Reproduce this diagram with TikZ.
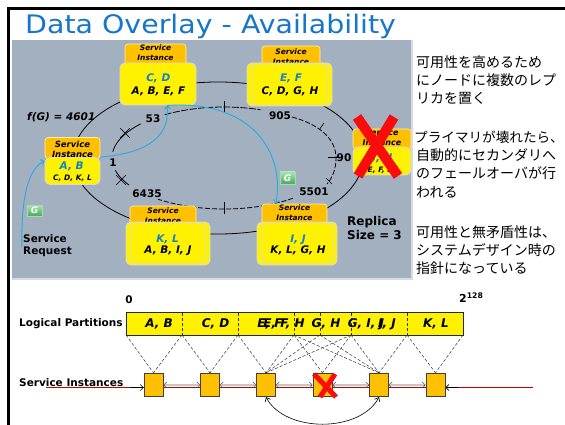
\documentclass[tikz,border=0pt]{standalone}
\usepackage{graphicx}
\usepackage{fontspec}
\setmainfont{DejaVu Sans}
\newfontfamily\jpfont{Noto Sans CJK JP}
\usetikzlibrary{arrows.meta,calc}

\definecolor{panel}{RGB}{163,176,192}
\definecolor{tabor}{RGB}{255,192,0}
\definecolor{ttlblue}{RGB}{22,118,200}
\definecolor{lblblue}{RGB}{18,130,205}
\definecolor{wireblue}{RGB}{40,170,226}
\definecolor{darkred}{RGB}{192,0,0}
\definecolor{gdark}{RGB}{70,170,90}
\definecolor{glight}{RGB}{165,232,175}
\definecolor{xred}{RGB}{250,12,12}

\newcommand\fsz[2]{\fontsize{#1}{#2}\selectfont}

\tikzset{
  tabbox/.style={fill=tabor, draw=white!70!tabor, line width=0.6pt, rounded corners=3pt, inner sep=0pt},
  ybox/.style={fill=yellow, draw=white!85!black, line width=0.9pt, rounded corners=5pt, inner sep=0pt},
  tabtxt/.style={anchor=base, inner sep=0pt, font=\fsz{7.5}{9}\bfseries\itshape},
  bigtxt/.style={anchor=base, inner sep=0pt, font=\fsz{10.5}{12}\bfseries\itshape},
  bluetxt/.style={bigtxt, text=lblblue},
  numlbl/.style={anchor=base, inner sep=0pt, font=\fsz{10.5}{12}\bfseries},
  tickln/.style={line width=0.6pt},
  ringarc/.style={line width=0.8pt},
  wire/.style={wireblue, line width=0.9pt, -{Straight Barb[length=3pt,width=6pt]}},
  gicon/.style={minimum width=15pt, minimum height=11pt, inner sep=0pt, top color=glight, bottom color=gdark, draw=white!55!gdark, line width=0.4pt, text=white, font=\fsz{9}{9}\bfseries\itshape},
  redx/.style={xred, line width=10pt},
  segtxt/.style={anchor=base, inner sep=0pt, font=\fsz{12}{12}\bfseries\itshape},
  inst/.style={fill=tabor, draw=black!75, line width=0.8pt, minimum width=19pt, minimum height=23.5pt, inner sep=0pt},
  mapln/.style={densely dashed, line width=0.5pt, black!80},
  jp/.style={anchor=base west, inner sep=0pt, font=\jpfont\fsz{14}{18}},
  sidelbl/.style={anchor=base west, inner sep=0pt, font=\fsz{10.5}{12}\bfseries},
  link/.style={black!70, line width=0.5pt, {Straight Barb[length=3pt,width=6pt]}-{Straight Barb[length=3pt,width=6pt]}},
  linkbody/.style={double=black!22, double distance=1.3pt, line width=0.5pt, black!75, shorten <=1.5pt, shorten >=1.5pt},
}

\begin{document}
\begin{tikzpicture}[x=1pt,y=-1pt]
\useasboundingbox (0,0) rectangle (565,425);
\fill[white] (0,0) rectangle (565,425);

% slide frame and title
\draw[line width=3pt] (8.7,425) -- (8.7,8.3) -- (565,8.3);
\node[anchor=base west, inner sep=0pt, text=ttlblue, font=\fsz{25.5}{26}] (title) at (25,33.5)
  {\scalebox{1.115}[1]{Data Overlay - Availability}};

% ---------------- ring panel ----------------
\fill[panel] (12,40) rectangle (411,278);
\draw[white!55!panel, line width=1.5pt] (12,279) -- (411.8,279) -- (411.8,40);

% outer ring
\draw[ringarc] (218,158) ellipse [x radius=145, y radius=76];

% inner ring, drawn as arcs between the token positions
\draw[ringarc] plot[domain=187:222, samples=20] ({224+112*cos(\x)},{158+51*sin(\x)});
\draw[ringarc, dash pattern=on 7pt off 1.5pt] plot[domain=238:289, samples=30] ({224+112*cos(\x)},{158+51*sin(\x)});
\draw[ringarc, dash pattern=on 5pt off 2pt] (292,117) .. controls (318,124) and (336,138) .. (336,158)
   .. controls (336,170) and (332,178) .. (327,184);
\draw[ringarc] plot[domain=148:166, samples=10] ({224+112*cos(\x)},{158+51*sin(\x)});
\draw[ringarc, dash pattern=on 5pt off 2pt] plot[domain=52:126, samples=30] ({224+112*cos(\x)},{158+51*sin(\x)});

% token ticks
\draw[tickln] (120,128) -- (130,138) (120,138) -- (130,128);
\draw[tickln] (116,175) -- (126,185) (116,185) -- (126,175);
\draw[tickln] (224,101) -- (224,113);
\draw[tickln] (224,202) -- (224,214);
\draw[tickln] (319,130) -- (324,123);
\draw[tickln] (328,157.5) -- (341,157.5);
\draw[tickln] (326,178) -- (332,184);

% token labels
\node[numlbl, font=\fsz{10.5}{12}\bfseries\itshape, anchor=base west] (fg) at (27,120.5) {f(G) = 4601};
\node[numlbl] (n53) at (153,123) {53};
\node[numlbl] (n905) at (280,120) {905};
\node[numlbl] (n1) at (113,167) {1};
\node[numlbl] (n90) at (344,162) {90};
\node[numlbl] (n6435) at (147,197) {6435};
\node[numlbl] (n5501) at (314,195) {5501};

\node[anchor=base west, inner sep=0pt, font=\fsz{12}{14}\bfseries] (rep1) at (347,225) {Replica};
\node[anchor=base west, inner sep=0pt, font=\fsz{12}{14}\bfseries] (rep2) at (347,239.5) {Size = 3};

\node[sidelbl] (sr1) at (23,242.5) {Service};
\node[sidelbl] (sr2) at (23,254) {Request};

% service instance C,D
\node[tabbox, minimum width=61pt, minimum height=22pt] (cdT) at (155.5,55) {};
\node[tabtxt] (cdT1) at (155.5,50.7) {Service};
\node[tabtxt] (cdT2) at (155.5,60.7) {Instance};
\node[ybox, minimum width=76pt, minimum height=42pt] (cd) at (158,84) {};
\node[bluetxt] (cd1) at (158.3,81.8) {C, D};
\node[bigtxt] (cd2) at (158.5,94.8) {A, B, E, F};

% service instance E,F
\node[tabbox, minimum width=58pt, minimum height=20pt] (efT) at (291,56) {};
\node[tabtxt] (efT1) at (291,54.4) {Service};
\node[tabtxt] (efT2) at (291,64.4) {Instance};
\node[ybox, minimum width=85pt, minimum height=43pt] (efB) at (289.5,84.5) {};
\node[ybox, minimum width=75pt, minimum height=41pt] (ef) at (289.5,84.5) {};
\node[bluetxt] (ef1) at (291,81.5) {E, F};
\node[bigtxt] (ef2) at (290,94.8) {C, D, G, H};

% service instance A,B
\node[tabbox, minimum width=55pt, minimum height=21pt] (abT) at (72.5,148) {};
\node[tabtxt, font=\fsz{8.5}{9}\bfseries\itshape] (abT1) at (72.5,147.3) {Service};
\node[tabtxt, font=\fsz{8.5}{9}\bfseries\itshape] (abT2) at (72.5,157.2) {Instance};
\node[ybox, minimum width=55pt, minimum height=27pt] (ab) at (72.5,171) {};
\node[bluetxt] (ab1) at (71.7,169.8) {A, B};
\node[tabtxt] (ab2) at (72.5,181) {C, D, K, L};

% service instance K,L
\node[tabbox, minimum width=66pt, minimum height=20pt] (klT) at (163,216) {};
\node[tabtxt] (klT1) at (163,213.7) {Service};
\node[tabtxt] (klT2) at (163,223.4) {Instance};
\node[ybox, minimum width=84pt, minimum height=43pt] (klB) at (168,243.5) {};
\node[ybox, minimum width=74pt, minimum height=40pt] (kl) at (168,243) {};
\node[bluetxt] (kl1) at (167.5,242.1) {K, L};
\node[bigtxt] (kl2) at (168,253.8) {A, B, I, J};

% service instance I,J
\node[tabbox, minimum width=65pt, minimum height=20pt] (ijT) at (294.5,214) {};
\node[tabtxt] (ijT1) at (294.5,210) {Service};
\node[tabtxt] (ijT2) at (294.5,220) {Instance};
\node[ybox, minimum width=80pt, minimum height=43pt] (ijB) at (297,243.5) {};
\node[ybox, minimum width=71pt, minimum height=40pt] (ij) at (297.5,243) {};
\node[bluetxt] (ij1) at (298,242.1) {I, J};
\node[bigtxt] (ij2) at (298,253.8) {K, L, G, H};

% failed service instance G,H
\node[tabbox, minimum width=58pt, minimum height=20pt] (ghT) at (382,139) {};
\node[tabtxt, font=\fsz{8}{9}\bfseries\itshape] (ghT1) at (382,135.6) {Service};
\node[tabtxt, font=\fsz{8}{9}\bfseries\itshape] (ghT2) at (382,145.2) {Instance};
\node[ybox, minimum width=58pt, minimum height=28pt] (gh) at (382,161) {};
\node[bluetxt] (gh1) at (380,161.8) {G, H};
\node[tabtxt] (gh2) at (383,172) {E, F, I, J};
\draw[redx] (357,117) -- (398,176);
\draw[redx] (394,117) -- (358,176);

% request flow
\coordinate (srq) at (22,247);
\draw[wire] (srq) .. controls (21,205) and (26,170) .. (ab.160);
\draw[wire] (ab.north east) .. controls (150,153) and (170,135) .. (cd.-67);
\draw[wire] (cd.-67) .. controls (250,100) and (285,150) .. (ijT.151.6);

% hashed key markers
\node[gicon] (g1) at (34.5,210.5) {G};
\node[gicon, minimum height=12pt] (g2) at (287.5,178) {G};

% ---------------- partition bar ----------------
\node[numlbl] (zero) at (129,303.8) {0};
\node[numlbl, anchor=base west, font=\fsz{11}{12}\bfseries] (top) at (459,302) {2\textsuperscript{128}};
\node[sidelbl] (lp) at (19,326.5) {Logical Partitions};

\node[draw=black!85, line width=1pt, fill=yellow, minimum width=337pt, minimum height=23pt, inner sep=0pt] (bar) at (294.5,323.5) {};
\foreach \xx in {182,238,294,320,351,407}
  \draw[mapln] (\xx,313) -- (\xx,334.5);

\node[segtxt] (pAB) at (159,327.7) {A, B};
\node[segtxt] (pCD) at (215.5,327.7) {C, D};
\node[segtxt] (pEF) at (270,327.7) {E, F};
\node[segtxt] (pEFH) at (284,327.7) {E, F, H};
\node[segtxt] (pGH) at (326,327.7) {G, H};
\node[segtxt] (pGIJ) at (366,327.7) {G, I, J};
\node[segtxt] (pIJ) at (387,327.7) {I, J};
\node[segtxt] (pKL) at (436,327.7) {K, L};

\foreach \nm/\xx in {b0/126,b1/182,b2/238,b3/294,b4/320,b5/351,b6/407,b7/463}
  \coordinate (\nm) at (\xx,335);

% ring as a line of service instances
\draw[darkred, line width=0.7pt] (46,387.5) -- (533,387.5);
\node[sidelbl] (si) at (19,386.5) {Service Instances};

\foreach \nm/\xx in {s1/153.5,s2/210,s3/266,s4/322.5,s5/379,s6/435.5}
  \node[inst] (\nm) at (\xx,385) {};

% partition ownership
\foreach \a/\b in {b0/s1,b1/s1,b1/s2,b2/s2,b2/s3,b3/s3,b3/s4,b3/s5,b4/s3,b4/s5,b5/s3,b5/s4,b5/s5,b6/s5,b6/s6,b7/s6}
  \draw[mapln] (\a) -- (\b.north);

% neighbour links
\foreach \a/\b in {s1/s2,s2/s3,s3/s4,s4/s5,s5/s6}{
  \draw[link] (\a.east) -- (\b.west);
  \draw[linkbody] (\a.east) -- (\b.west);
}
\coordinate (inL) at (130,387.5);
\coordinate (inR) at (458,387.5);
\draw[black, line width=0.6pt, -{Straight Barb[length=3pt,width=6pt]}] (inL) -- (s1.west |- inL);
\draw[black, line width=0.6pt, -{Straight Barb[length=3pt,width=6pt]}] (inR) -- (s6.east |- inR);

\draw[black, line width=0.6pt, {Straight Barb[length=3.5pt,width=6pt]}-{Straight Barb[length=3.5pt,width=6pt]}]
  (s3.south) .. controls (285,433) and (360,433) .. (s5.south);

\draw[xred, line width=5pt] (314,374) -- (336,397);
\draw[xred, line width=5pt] (335,374) -- (320,397);

% ---------------- notes ----------------
\node[jp] (j1) at (416,67.2) {可用性を高めるため};
\node[jp] (j2) at (416,85.5) {にノードに複数のレプ};
\node[jp] (j3) at (416,103.8) {リカを置く};
\node[jp, font=\jpfont\fsz{13.6}{18}] (j4) at (414,142.2) {プライマリが壊れたら、};
\node[jp] (j5) at (416,160.5) {自動的にセカンダリへ};
\node[jp] (j6) at (416,178.8) {のフェールオーバが行};
\node[jp] (j7) at (416,197.1) {われる};
\node[jp] (j8) at (416,237.2) {可用性と無矛盾性は、};
\node[jp] (j9) at (416,255.5) {システムデザイン時の};
\node[jp] (j10) at (416,273.8) {指針になっている};
\end{tikzpicture}
\end{document}
